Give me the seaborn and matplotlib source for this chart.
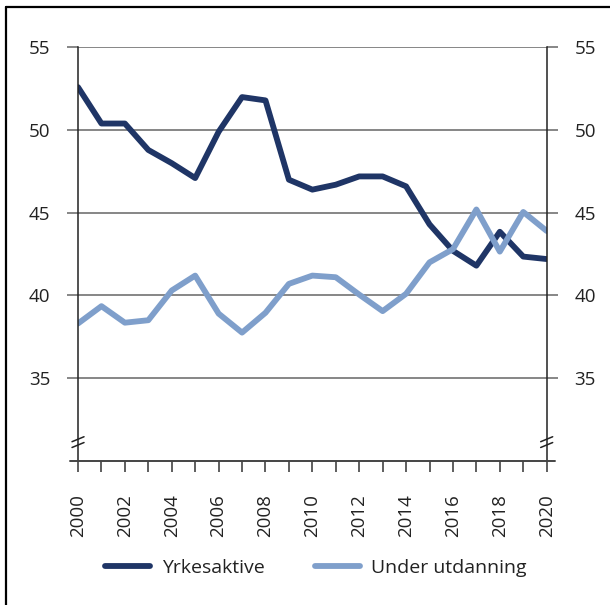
import numpy as np
import pandas as pd
import seaborn as sns
import matplotlib.pyplot as plt
from matplotlib.lines import Line2D
import matplotlib.transforms as mtransforms

years = list(range(2000, 2021))
yrkesaktive = [52.6, 50.4, 50.4, 48.8, 48.0, 47.1, 49.9, 52.0, 51.8, 47.0, 46.4,
               46.7, 47.2, 47.2, 46.6, 44.3, 42.7, 41.8, 43.85, 42.35, 42.2]
under_utdanning = [38.3, 39.35, 38.35, 38.5, 40.3, 41.2, 38.9, 37.75, 38.95, 40.7, 41.2,
                   41.1, 40.05, 39.05, 40.1, 42.0, 42.8, 45.2, 42.65, 45.05, 43.9]
series_names = ['Yrkesaktive', 'Under utdanning']
colors = {'Yrkesaktive': '#1f3566', 'Under utdanning': '#7f9fcb'}
ytick_vals = [35, 40, 45, 50, 55]
xtick_vals = list(range(2000, 2021, 2))

df = pd.DataFrame({
    'year': years * 2,
    'value': yrkesaktive + under_utdanning,
    'serie': ['Yrkesaktive'] * len(years) + ['Under utdanning'] * len(years),
})

sns.set_style('white')
plt.rcParams['font.family'] = ['Open Sans', 'DejaVu Sans']
grid_col = '#666666'

fig = plt.figure(figsize=(6.1, 6.05), dpi=100)
ax = fig.add_axes([0.1279, 0.2385, 0.7683, 0.683])

sns.lineplot(data=df, x='year', y='value', hue='serie', palette=colors,
             linewidth=4.2, ax=ax, legend=False)

ax.set_xlim(2000, 2020)
ax.set_ylim(30, 55)
ax.set_xlabel('')
ax.set_ylabel('')

ax.set_yticks(ytick_vals)
ax.set_yticklabels([str(v) for v in ytick_vals])
ax.yaxis.grid(True, color=grid_col, linewidth=1.1)
ax.set_axisbelow(True)
ax.tick_params(axis='y', direction='out', length=8, width=1.1, color=grid_col,
               left=True, right=True, labelleft=True, labelright=True,
               labelsize=13.5, labelcolor='#222222', pad=12)

ax.set_xticks(years)
ax.set_xticklabels([str(y) if y in xtick_vals else '' for y in years],
                   rotation=90)
ax.tick_params(axis='x', direction='out', length=8, width=1.1, color='#333333',
               bottom=True, labelsize=13.5, labelcolor='#222222', pad=16)

for side in ['top', 'bottom']:
    ax.spines[side].set_visible(False)
for side in ['left', 'right']:
    ax.spines[side].set_color('#222222')
    ax.spines[side].set_linewidth(1.1)

# bottom axis line extending a bit past the plot
ax.plot([-0.018, 1.018], [0, 0], transform=ax.transAxes, color='#444444',
        linewidth=1.4, clip_on=False, zorder=3)

# axis break marks on both vertical axes
for xa in [0, 1]:
    for yv in [31.3, 30.95]:
        tr = mtransforms.blended_transform_factory(ax.transAxes, ax.transData)
        dx = 6 / (0.7683 * 610)
        ax.plot([xa - dx, xa + dx], [yv - 0.15, yv + 0.15], transform=tr,
                color='#222222', linewidth=1.1, clip_on=False, zorder=4)

handles = [Line2D([0], [0], color=colors[n], linewidth=4.2, solid_capstyle='round')
           for n in series_names]
fig.legend(handles, series_names, loc='center', bbox_to_anchor=(0.518, 1 - 568 / 605),
           ncol=2, frameon=False, fontsize=14, handlelength=2.3,
           handletextpad=0.6, columnspacing=2.6, labelcolor='#222222')

# frame lines on top and left of the figure
fig.add_artist(Line2D([0.0093, 1.0], [0.9892, 0.9892], color='black', linewidth=1.6))
fig.add_artist(Line2D([0.0093, 0.0093], [0.0, 0.9892], color='black', linewidth=1.6))

fig.savefig('out.png', dpi=100)
